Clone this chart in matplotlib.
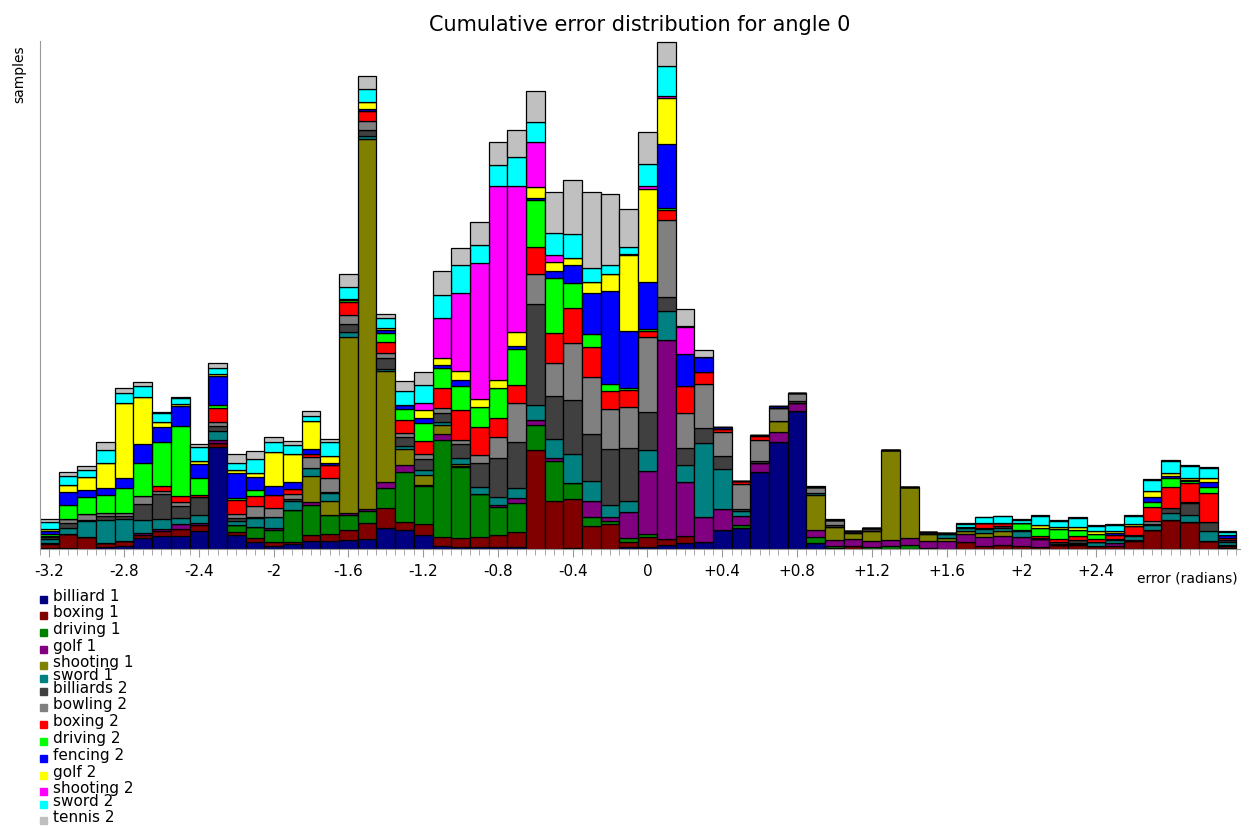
import numpy as np
import matplotlib
matplotlib.use("Agg")
import matplotlib.pyplot as plt

# bin centres -3.2 .. 3.1, step 0.1
centers = np.round(np.arange(-32, 32) * 0.1, 2)

labels = ["billiard 1", "boxing 1", "driving 1", "golf 1", "shooting 1", "sword 1",
          "billiards 2", "bowling 2", "boxing 2", "driving 2", "fencing 2", "golf 2",
          "shooting 2", "sword 2", "tennis 2"]
colors = ["#000080", "#800000", "#008000", "#800080", "#808000", "#008080",
          "#404040", "#808080", "#ff0000", "#00ff00", "#0000ff", "#ffff00",
          "#ff00ff", "#00ffff", "#c0c0c0"]

billiard1 = [1, 1, 0, 2, 3, 11, 13, 13, 18, 102, 14, 7, 3, 5, 8, 8, 9, 10, 21, 19,
             14, 3, 2, 2, 2, 2, 0, 0, 1, 0, 0, 2, 2, 4, 6, 7, 19, 21, 77, 107,
             138, 6, 0, 0, 0, 0, 0, 1, 0, 0, 0, 0, 0, 0, 0, 0, 0, 0, 0, 0,
             0, 0, 0, 1]
boxing1 = [4, 14, 12, 4, 5, 3, 5, 7, 6, 4, 3, 4, 4, 2, 6, 7, 10, 16, 20, 8,
           11, 9, 9, 10, 12, 15, 99, 48, 49, 23, 25, 5, 10, 6, 7, 0, 0, 0, 0, 0,
           0, 0, 1, 3, 0, 0, 0, 0, 0, 7, 3, 4, 3, 2, 4, 4, 3, 3, 8, 19,
           29, 27, 8, 2]
driving1 = [1, 0, 0, 0, 0, 0, 0, 0, 0, 0, 7, 11, 12, 32, 30, 19, 15, 12, 20, 50,
            38, 97, 71, 43, 28, 29, 25, 40, 16, 9, 3, 4, 3, 0, 0, 0, 0, 3, 0, 0,
            0, 6, 2, 0, 2, 3, 4, 0, 0, 0, 0, 0, 0, 0, 0, 0, 0, 0, 0, 0,
            0, 0, 0, 0]
golf1 = [0, 0, 0, 0, 0, 2, 2, 5, 2, 3, 0, 0, 2, 0, 3, 0, 2, 2, 6, 7,
         1, 6, 1, 0, 2, 5, 5, 3, 0, 16, 4, 26, 63, 199, 54, 25, 21, 9, 9, 10,
         8, 7, 6, 7, 6, 6, 7, 7, 8, 8, 9, 9, 9, 8, 0, 1, 0, 3, 1, 0,
         0, 0, 0, 1]
shooting1 = [0, 0, 0, 0, 0, 0, 0, 0, 0, 0, 0, 0, 0, 0, 26, 14, 176, 370, 111, 16,
             10, 9, 2, 0, 0, 0, 0, 0, 0, 0, 0, 0, 0, 0, 0, 0, 0, 0, 0, 11,
             0, 35, 13, 6, 10, 90, 51, 7, 3, 3, 4, 5, 0, 0, 0, 0, 0, 0, 0, 0,
             0, 0, 0, 0]
sword1 = [4, 6, 16, 23, 22, 13, 10, 6, 8, 9, 4, 9, 11, 9, 8, 8, 5, 3, 2, 3,
          5, 3, 6, 7, 8, 10, 15, 19, 29, 20, 12, 11, 21, 29, 17, 74, 40, 5, 0, 0,
          0, 2, 0, 0, 0, 0, 0, 0, 4, 3, 4, 3, 6, 0, 1, 1, 4, 3, 4, 5,
          7, 7, 10, 3]
billiards2 = [2, 5, 1, 4, 3, 16, 25, 12, 18, 5, 3, 1, 0, 2, 0, 1, 8, 6, 11, 9,
              11, 9, 14, 24, 39, 46, 101, 43, 54, 47, 56, 53, 38, 14, 17, 15, 13, 2, 2, 0,
              2, 0, 2, 2, 3, 0, 0, 2, 0, 1, 1, 2, 1, 1, 2, 3, 0, 1, 1, 1,
              5, 12, 9, 2]
bowling2 = [1, 4, 6, 3, 3, 8, 3, 4, 0, 4, 4, 11, 9, 5, 11, 14, 9, 9, 5, 4,
            5, 5, 4, 8, 21, 39, 30, 33, 57, 57, 40, 41, 75, 77, 35, 44, 24, 25, 21, 13,
            8, 6, 5, 0, 0, 0, 0, 0, 1, 0, 0, 0, 0, 0, 0, 0, 0, 0, 0, 3,
            0, 1, 0, 0]
boxing2 = [0, 0, 0, 0, 0, 0, 5, 6, 2, 14, 14, 10, 13, 5, 3, 13, 13, 10, 11, 13,
           13, 20, 30, 28, 19, 18, 27, 30, 35, 30, 18, 17, 6, 10, 27, 12, 3, 3, 4, 0,
           0, 0, 0, 0, 0, 0, 0, 0, 0, 0, 5, 3, 0, 2, 3, 4, 3, 4, 9, 14,
           21, 19, 29, 2]
driving2 = [2, 14, 17, 18, 25, 33, 44, 70, 17, 3, 2, 6, 0, 0, 0, 0, 2, 0, 9, 11,
            18, 20, 24, 20, 30, 36, 47, 55, 25, 13, 7, 2, 2, 2, 0, 0, 0, 0, 0, 0,
            0, 0, 0, 0, 0, 0, 0, 0, 0, 0, 0, 0, 7, 8, 10, 6, 5, 0, 0, 5,
            9, 2, 6, 0]
fencing2 = [3, 13, 7, 7, 10, 19, 15, 20, 14, 29, 25, 13, 9, 7, 5, 2, 0, 2, 3, 4,
            5, 3, 6, 0, 0, 3, 2, 7, 18, 41, 93, 57, 47, 64, 32, 15, 2, 0, 1, 2,
            0, 0, 0, 0, 0, 0, 0, 0, 0, 0, 0, 0, 0, 0, 0, 0, 0, 2, 0, 5,
            2, 1, 5, 3]
golf2 = [2, 7, 13, 25, 75, 47, 5, 2, 3, 2, 3, 4, 34, 28, 28, 7, 1, 7, 2, 0,
         8, 7, 9, 8, 8, 14, 11, 9, 7, 11, 17, 76, 93, 46, 0, 0, 0, 0, 0, 0,
         0, 0, 0, 0, 0, 0, 0, 0, 0, 0, 0, 0, 0, 3, 2, 3, 3, 2, 2, 6,
         3, 2, 4, 0]
shooting2 = [0, 0, 0, 0, 0, 0, 0, 0, 0, 0, 0, 0, 0, 0, 0, 0, 0, 0, 0, 0,
             7, 40, 78, 136, 194, 146, 45, 7, 0, 0, 0, 1, 3, 2, 27, 0, 0, 0, 0, 0,
             0, 0, 0, 0, 0, 0, 0, 0, 0, 0, 0, 0, 0, 0, 0, 0, 0, 0, 0, 0,
             0, 0, 0, 0]
sword2 = [7, 9, 7, 13, 10, 11, 9, 6, 14, 6, 7, 14, 10, 9, 5, 14, 12, 13, 10, 14,
          18, 23, 28, 18, 21, 29, 20, 22, 24, 14, 9, 7, 22, 30, 1, 0, 0, 0, 0, 0,
          0, 0, 0, 0, 0, 0, 0, 0, 0, 3, 6, 7, 3, 9, 6, 9, 5, 6, 8, 11,
          12, 12, 10, 3]
tennis2 = [3, 4, 4, 8, 5, 4, 1, 1, 3, 5, 9, 8, 5, 4, 5, 3, 13, 13, 4, 10,
           13, 24, 17, 23, 23, 27, 31, 41, 54, 76, 71, 38, 32, 24, 17, 7, 0, 0, 0, 0,
           0, 1, 1, 0, 0, 0, 0, 0, 0, 1, 0, 0, 1, 1, 1, 1, 1, 1, 1, 1,
           1, 1, 1, 1]

series = [billiard1, boxing1, driving1, golf1, shooting1, sword1, billiards2,
          bowling2, boxing2, driving2, fencing2, golf2, shooting2, sword2, tennis2]

tick_pos = [-3.2, -2.8, -2.4, -2.0, -1.6, -1.2, -0.8, -0.4, 0.0, 0.4, 0.8, 1.2, 1.6, 2.0, 2.4]
tick_lab = ["-3.2", "-2.8", "-2.4", "-2", "-1.6", "-1.2", "-0.8", "-0.4", "0",
            "+0.4", "+0.8", "+1.2", "+1.6", "+2", "+2.4"]

fig = plt.figure(figsize=(12.49, 8.29), dpi=100)
ax = fig.add_axes([40 / 1249, 1 - 550 / 829, 1200 / 1249, 508 / 829])

bottom = np.zeros(len(centers))
for vals, col in zip(series, colors):
    vals = np.array(vals, dtype=float)
    ax.bar(centers, vals, width=0.1, bottom=bottom, color=col,
           edgecolor="black", linewidth=0.9)
    bottom += vals

ax.set_xlim(-3.25, 3.17)
ax.set_ylim(0, 508)
ax.spines['right'].set_color('none')
ax.spines['top'].set_color('none')
ax.spines['left'].set_color('#999999')
ax.spines['bottom'].set_color('#999999')
ax.set_yticks([])
ax.set_xticks(tick_pos)
ax.set_xticklabels(tick_lab, fontsize=11)
ax.set_xticks(np.arange(-3.25, 3.2, 0.05), minor=True)
ax.tick_params(axis='x', which='major', length=6, color='#999999', pad=4)
ax.tick_params(axis='x', which='minor', length=4, color='#999999')

ax.set_title("Cumulative error distribution for angle 0", fontsize=15, pad=8)
fig.text(12 / 1249, 1 - 45 / 829, "samples", rotation=90, ha='left', va='top', fontsize=10)
fig.text(1238 / 1249, 1 - 578 / 829, "error (radians)", ha='right', va='center', fontsize=10)

# legend drawn by hand below the axes
leg_y = [597, 613, 630, 647, 663, 676, 689, 705, 722, 739, 756, 773, 789, 802, 818]
for lab, col, yy in zip(labels, colors, leg_y):
    fig.patches.append(plt.Rectangle((40 / 1249, 1 - (yy + 7) / 829), 7 / 1249, 7 / 829,
                                     transform=fig.transFigure, color=col))
    fig.text(53 / 1249, 1 - yy / 829, lab, ha='left', va='center', fontsize=11)

fig.savefig("out.png", dpi=100)
